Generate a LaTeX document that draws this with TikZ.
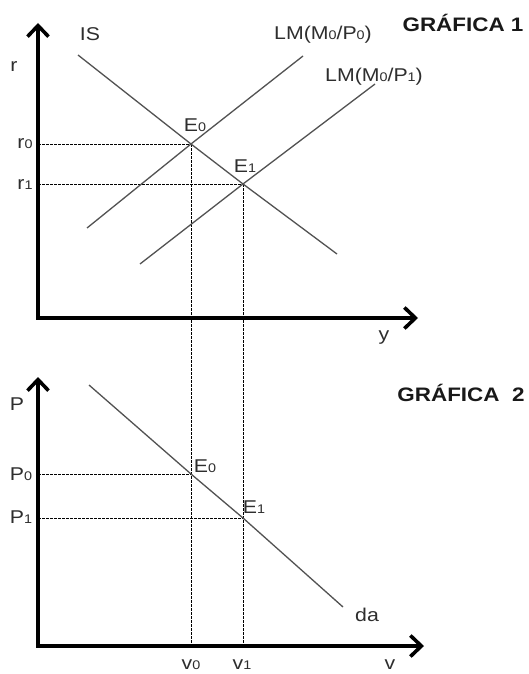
\documentclass[tikz,border=0pt]{standalone}
\usepackage{fontspec}
\setmainfont{Liberation Sans}[FakeStretch=1.15]
\usetikzlibrary{arrows.meta}
\begin{document}
\begin{tikzpicture}[x=1pt,y=-1pt,
  axis/.style={line width=3.8pt,line join=miter,
    {Straight Barb[length=11pt,width=21pt,line width=3.6pt]}-{Straight Barb[length=11pt,width=21pt,line width=3.6pt]}},
  curve/.style={line width=1.3pt,draw=black!68},
  guide/.style={line width=1pt,dash pattern=on 2.6pt off 1.4pt},
  lbl/.style={font=\fontsize{18.5}{18.5}\selectfont,inner sep=0pt,text=black!82},
  ttl/.style={font=\fontsize{19.5}{19.5}\selectfont\bfseries,inner sep=0pt,text=black!90}]
\newcommand\sbs[1]{{\fontsize{12.5}{12.5}\selectfont #1}}
\useasboundingbox (0,0) rectangle (528,674);
\fill[white] (0,0) rectangle (528,674);
% ---------- points ----------
\coordinate (E0) at (191,144);
\coordinate (E1) at (243,184);
\coordinate (F0) at (191,474);
\coordinate (F1) at (243,518);
\coordinate (Ar0) at (38,144);
\coordinate (Ar1) at (38,184);
\coordinate (AP0) at (38,474);
\coordinate (AP1) at (38,518);
\coordinate (B0) at (191,646);
\coordinate (B1) at (243,646);
% ---------- guides ----------
\draw[guide] (Ar0) -- (E0);
\draw[guide] (Ar1) -- (E1);
\draw[guide] (AP0) -- (F0);
\draw[guide] (AP1) -- (F1);
\draw[guide] (E0) -- (B0);
\draw[guide] (E1) -- (B1);
% ---------- curves ----------
\coordinate (ISa) at (78,55);
\coordinate (ISb) at (337,254);
\coordinate (L0a) at (87,228);
\coordinate (L0b) at (303,56);
\coordinate (L1a) at (140,264);
\coordinate (L1b) at (375,84);
\coordinate (DAa) at (89,385);
\coordinate (DAb) at (343,607);
\draw[curve] (ISa) -- (E0) -- (E1) -- (ISb);
\draw[curve] (L0a) -- (E0) -- (L0b);
\draw[curve] (L1a) -- (E1) -- (L1b);
\draw[curve] (DAa) -- (F0) -- (F1) -- (DAb);
% ---------- axes ----------
\coordinate (Y1) at (38,23);
\coordinate (O1) at (38,318);
\coordinate (X1) at (418,318);
\coordinate (Y2) at (38,377);
\coordinate (O2) at (38,646);
\coordinate (X2) at (424,646);
\draw[axis] (Y1) -- (O1) -- (X1);
\draw[axis] (Y2) -- (O2) -- (X2);
% ---------- labels ----------
\node[lbl] (lIS) at (90,34) {IS};
\node[lbl] (lr) at (14,67) {r};
\node[lbl] (lr0) at (25,144) {r\sbs{0}};
\node[lbl] (lr1) at (25,185) {r\sbs{1}};
\node[lbl] (lLM0) at (323,35) {LM(M\sbs{0}/P\sbs{0})};
\node[lbl] (lLM1) at (374,77) {LM(M\sbs{0}/P\sbs{1})};
\node[lbl] (lE0) at (195,125) {E\sbs{0}};
\node[lbl] (lE1) at (245,166) {E\sbs{1}};
\node[lbl] (ly) at (384,338) {y};
\node[ttl] (g1) at (463,23) {GRÁFICA 1};
\node[lbl] (lP) at (17,404) {P};
\node[lbl] (lP0) at (21,474) {P\sbs{0}};
\node[lbl] (lP1) at (21,517) {P\sbs{1}};
\node[lbl] (lF0) at (205,466) {E\sbs{0}};
\node[lbl] (lF1) at (254,507) {E\sbs{1}};
\node[lbl] (lda) at (367,615) {da};
\node[ttl] (g2) at (461,393) {GRÁFICA\ \ 2};
\node[lbl,anchor=north] (lv0) at (191,660) {v\sbs{0}};
\node[lbl,anchor=north] (lv1) at (242,660) {v\sbs{1}};
\node[lbl,anchor=north] (lv) at (390,660) {v};
\end{tikzpicture}
\end{document}
